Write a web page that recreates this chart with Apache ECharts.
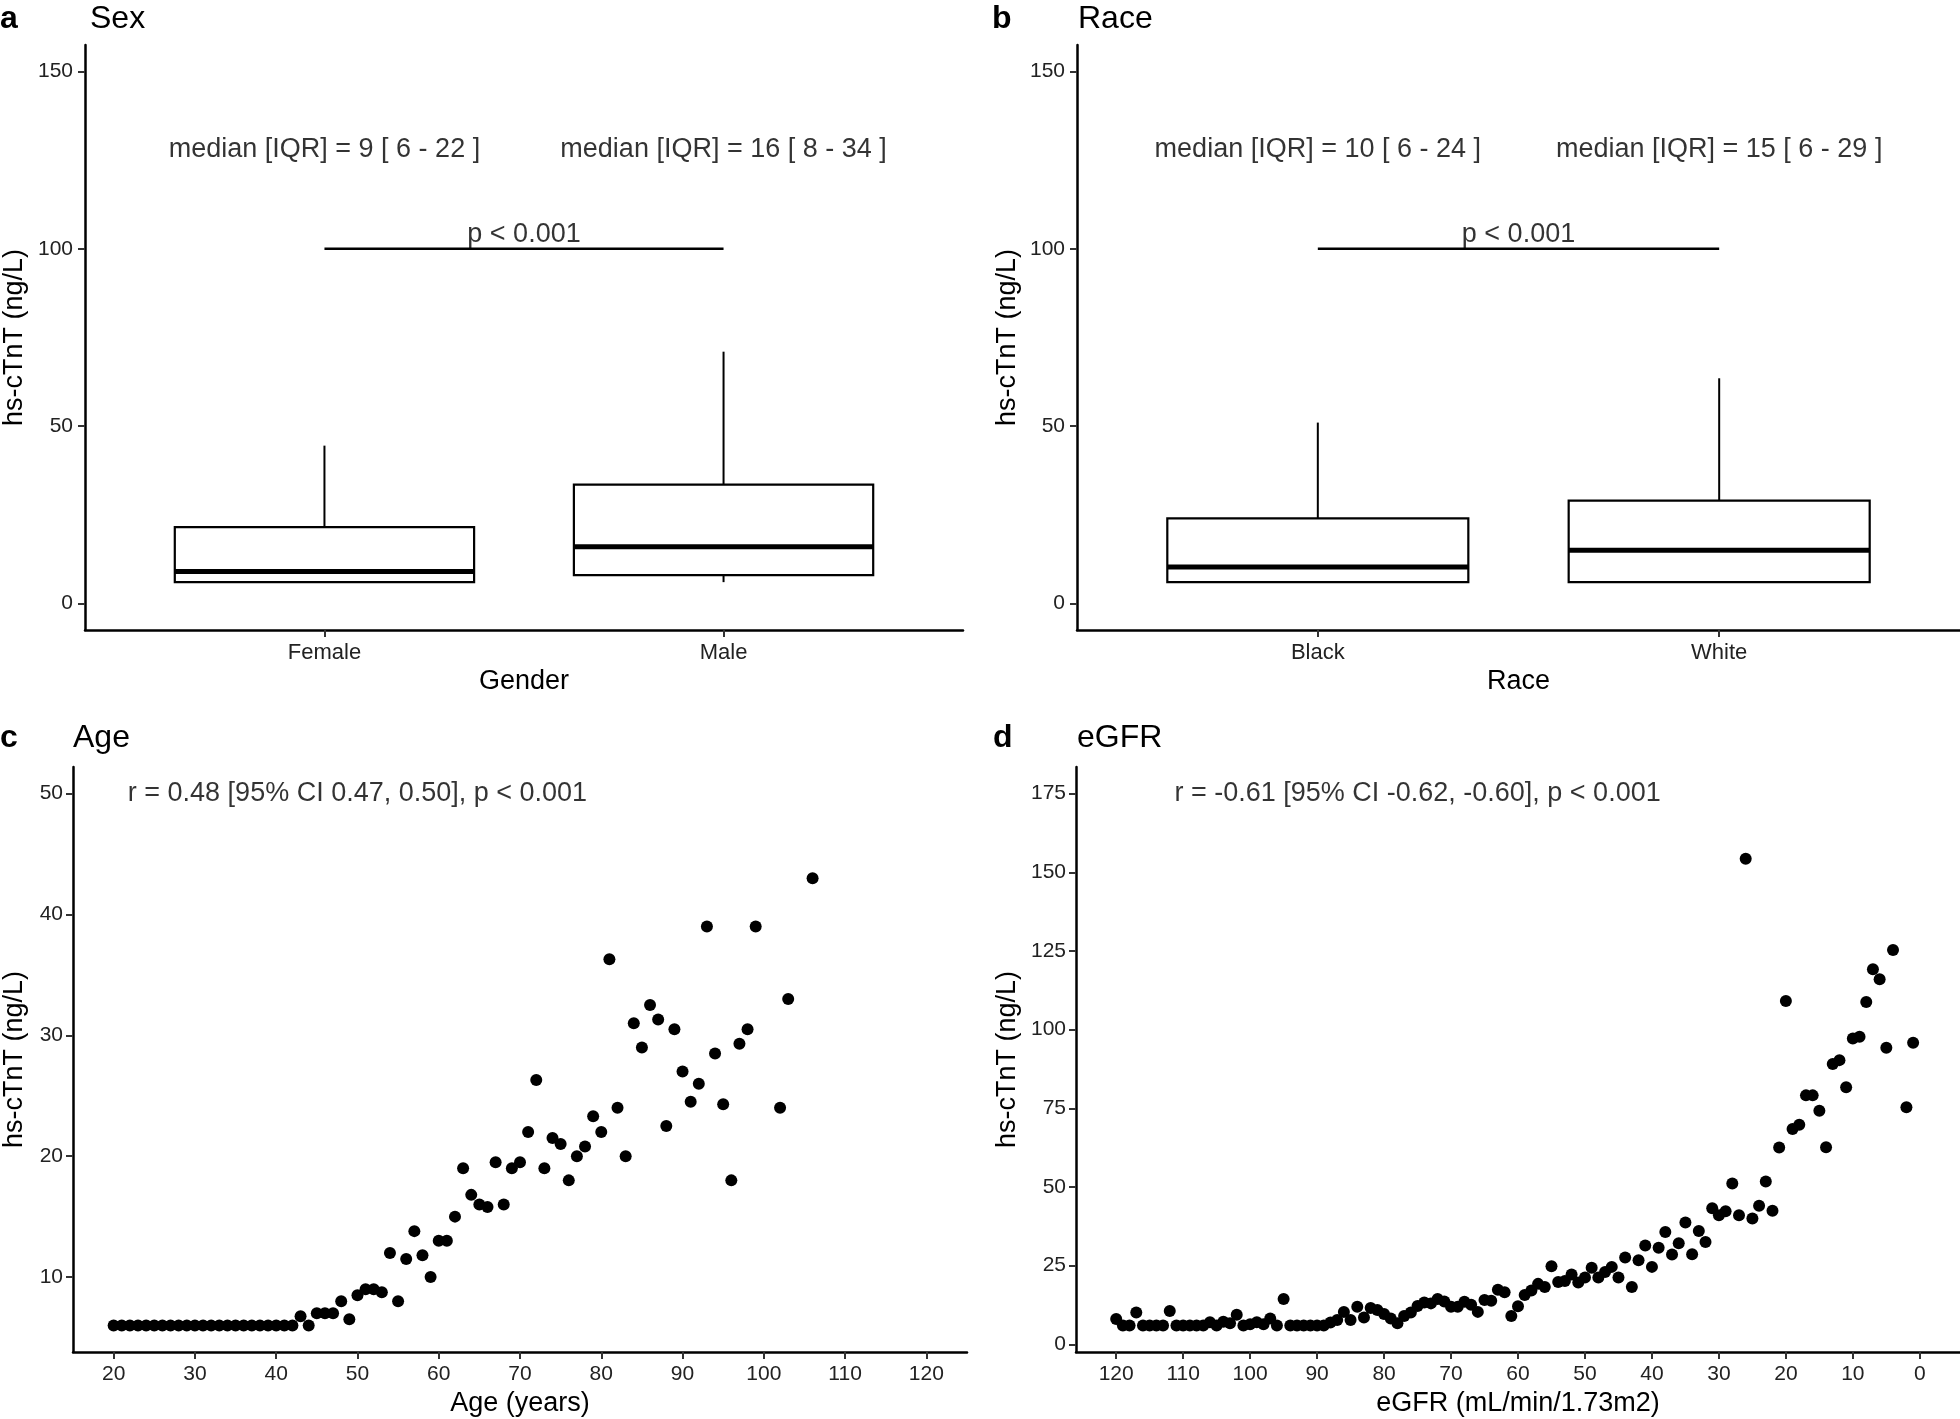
<!DOCTYPE html>
<html>
<head>
<meta charset="utf-8">
<script src="https://cdn.jsdelivr.net/npm/echarts@6/dist/echarts.min.js"></script>
<style>
html,body{margin:0;padding:0;background:#fff;}
#chart{width:1960px;height:1419px;}
</style>
</head>
<body>
<div id="chart"></div>
<script>
// ---------- data ----------
const sexCategories = ['Female', 'Male'];
// [min, Q1, median, Q3, max(upper whisker)]
const sexBox = [[6, 6, 9, 21.5, 44.5], [6, 8, 16, 33.5, 71]];
const sexLabels = ['median [IQR] = 9 [ 6 - 22 ]', 'median [IQR] = 16 [ 8 - 34 ]'];

const raceCategories = ['Black', 'White'];
const raceBox = [[6, 6, 10.3, 24, 51], [6, 6, 15, 29, 63.5]];
const raceLabels = ['median [IQR] = 10 [ 6 - 24 ]', 'median [IQR] = 15 [ 6 - 29 ]'];

const boxTicks = [0, 50, 100, 150];
const pLabel = 'p < 0.001';

const ageYears = [20,21,22,23,24,25,26,27,28,29,30,31,32,33,34,35,36,37,38,39,40,41,42,
  43,44,45,46,47,48,49,50,51,52,53,54,55,56,57,58,59,60,61,62,63,64,65,66,67,68,69,70,
  71,72,73,74,75,76,77,78,79,80,81,82,83,84,85,86,87,88,89,90,91,92,93,94,95,96,97,98,99,
  102,103,106];
const ageTnT = [6,6,6,6,6,6,6,6,6,6,6,6,6,6,6,6,6,6,6,6,6,6,6,
  6.75,6,7,7,7,8,6.5,8.5,9,9,8.75,12,8,11.5,13.8,11.8,10,13,13,15,19,16.8,16,15.8,19.5,16,19,19.5,
  22,26.3,19,21.5,21,18,20,20.8,23.3,22,36.3,24,20,31,29,32.5,31.3,22.5,30.5,27,24.5,26,39,28.5,24.3,18,29.3,30.5,39,
  24,33,43];
const ageXTicks = [20,30,40,50,60,70,80,90,100,110,120];
const ageYTicks = [10,20,30,40,50];
const ageLabel = 'r = 0.48 [95% CI 0.47, 0.50], p < 0.001';

const egfrValues = [120,119,118,117,116,115,114,113,112,111,110,109,108,107,106,105,104,103,102,101,
  100,99,98,97,96,95,94,93,92,91,90,89,88,87,86,85,84,83,82,81,
  80,79,78,77,76,75,74,73,72,71,70,69,68,67,66,65,64,63,62,61,
  60,59,58,57,56,55,54,53,52,51,50,49,48,47,46,45,44,43,42,41,
  40,39,38,37,36,35,34,33,32,31,30,29,28,27,26,25,24,23,22,21,
  20,19,18,17,16,15,14,13,12,11,10,9,8,7,6,5,4,2,1];
const egfrTnT = [8,6,6,10.1,6,6,6,6,10.6,6,6,6,6,6,7,6,7.2,6.7,9.4,6,
  6.4,7,6.4,8.2,6,14.4,6,6,6,6,6,6,6.9,7.7,10.3,7.7,11.9,8.5,11.5,10.9,
  9.6,8.2,6.7,9,10.1,12.2,13.3,13,14.4,13.6,11.9,11.9,13.5,12.6,10.3,14.1,13.8,17.3,16.5,9,
  12.1,15.7,17.1,19.2,18.2,24.8,19.8,20.1,22.2,19.6,21.2,24.3,21.2,23,24.6,21.2,27.6,18.2,26.7,31.4,
  24.6,30.7,35.7,28.5,32.1,38.7,28.6,36,32.5,43.2,41,42.3,51.1,41,154.3,40,44,51.7,42.4,62.5,
  109.1,68.4,69.8,79.1,79.1,74.2,62.6,89.1,90.3,81.7,97.2,97.7,108.8,119.2,116,94.2,125.3,75.3,95.8];
const egfrXTicks = [0,10,20,30,40,50,60,70,80,90,100,110,120];
const egfrYTicks = [0,25,50,75,100,125,150,175];
const egfrLabel = 'r = -0.61 [95% CI -0.62, -0.60], p < 0.001';

// ---------- styling ----------
const FONT = "'Liberation Sans', Arial, sans-serif";
const DOT = 12;
const TICKCOL = '#222';

const grids = [
  {left: 85, top: 45, width: 878, height: 585},
  {left: 1077, top: 45, width: 883, height: 585},
  {left: 73, top: 767, width: 894, height: 585},
  {left: 1076, top: 767, width: 884, height: 585}
];

function axisCommon(extra) {
  return Object.assign({
    type: 'value',
    splitLine: {show: false},
    axisLine: {show: true, onZero: false, lineStyle: {color: '#000', width: 2.5}},
    nameTextStyle: {fontFamily: FONT, fontSize: 27, color: '#000'},
    nameLocation: 'middle'
  }, extra);
}

function tickStyle(custom) {
  return {show: true, length: 7, customValues: custom, lineStyle: {color: '#333', width: 2}};
}

function labelStyle(size, custom, formatter, margin) {
  const o = {show: true, fontFamily: FONT, fontSize: size, color: TICKCOL, margin: margin, customValues: custom, showMinLabel: true, showMaxLabel: true};
  if (formatter) o.formatter = formatter;
  return o;
}

const xAxes = [
  axisCommon({gridIndex: 0, min: 0.4, max: 2.6, name: 'Gender', nameGap: 38,
    axisTick: tickStyle([1, 2]),
    axisLabel: labelStyle(22, [1, 2], v => sexCategories[Math.round(v) - 1], 12)}),
  axisCommon({gridIndex: 1, min: 0.4, max: 2.6, name: 'Race', nameGap: 38,
    axisTick: tickStyle([1, 2]),
    axisLabel: labelStyle(22, [1, 2], v => raceCategories[Math.round(v) - 1], 12)}),
  axisCommon({gridIndex: 2, min: 15, max: 125, name: 'Age (years)', nameGap: 38,
    axisTick: tickStyle(ageXTicks),
    axisLabel: labelStyle(21, ageXTicks, null, 12)}),
  axisCommon({gridIndex: 3, min: -6, max: 126, inverse: true, name: 'eGFR (mL/min/1.73m2)', nameGap: 38,
    axisTick: tickStyle(egfrXTicks),
    axisLabel: labelStyle(21, egfrXTicks, null, 12)})
];

const yAxes = [
  axisCommon({gridIndex: 0, min: -7.5, max: 157.5, name: 'hs-cTnT (ng/L)', nameGap: 57,
    axisTick: tickStyle(boxTicks),
    axisLabel: labelStyle(21, boxTicks, null, 12)}),
  axisCommon({gridIndex: 1, min: -7.5, max: 157.5, name: 'hs-cTnT (ng/L)', nameGap: 56,
    axisTick: tickStyle(boxTicks),
    axisLabel: labelStyle(21, boxTicks, null, 12)}),
  axisCommon({gridIndex: 2, min: 3.8, max: 52.2, name: 'hs-cTnT (ng/L)', nameGap: 45,
    axisTick: tickStyle(ageYTicks),
    axisLabel: labelStyle(21, ageYTicks, null, 10)}),
  axisCommon({gridIndex: 3, min: -2.45, max: 183.45, name: 'hs-cTnT (ng/L)', nameGap: 55,
    axisTick: tickStyle(egfrYTicks),
    axisLabel: labelStyle(21, egfrYTicks, null, 10)})
];

function boxRender(params, api) {
  const x = api.value(0);
  const mn = api.value(1), q1 = api.value(2), md = api.value(3), q3 = api.value(4), mx = api.value(5);
  const half = 0.375;
  const tl = api.coord([x - half, q3]);
  const br = api.coord([x + half, q1]);
  const cMax = api.coord([x, mx]);
  const cQ3 = api.coord([x, q3]);
  const cQ1 = api.coord([x, q1]);
  const cMin = api.coord([x, mn]);
  const ml = api.coord([x - half, md]);
  const mr = api.coord([x + half, md]);
  return {
    type: 'group',
    children: [
      {type: 'line', shape: {x1: cMax[0], y1: cMax[1], x2: cQ3[0], y2: cQ3[1]}, style: {stroke: '#000', lineWidth: 2}},
      {type: 'line', shape: {x1: cQ1[0], y1: cQ1[1], x2: cMin[0], y2: cMin[1]}, style: {stroke: '#000', lineWidth: 2}},
      {type: 'rect', shape: {x: tl[0], y: tl[1], width: br[0] - tl[0], height: br[1] - tl[1]}, style: {fill: '#fff', stroke: '#000', lineWidth: 2.2}},
      {type: 'line', shape: {x1: ml[0], y1: ml[1], x2: mr[0], y2: mr[1]}, style: {stroke: '#000', lineWidth: 5}}
    ]
  };
}

function boxSeries(idx, boxes) {
  return {
    type: 'custom', xAxisIndex: idx, yAxisIndex: idx, silent: true,
    renderItem: boxRender,
    encode: {x: 0, y: [1, 2, 3, 4, 5]},
    data: boxes.map((b, i) => [i + 1].concat(b)),
    z: 2
  };
}

function textSeries(idx, points, texts, size) {
  return {
    type: 'scatter', xAxisIndex: idx, yAxisIndex: idx, silent: true, symbolSize: 0,
    data: points,
    label: {show: true, position: 'inside', formatter: p => texts[p.dataIndex], fontFamily: FONT, fontSize: size, color: '#000'},
    z: 5
  };
}

function sigSeries(idx) {
  return {
    type: 'line', xAxisIndex: idx, yAxisIndex: idx, silent: true, symbol: 'none',
    data: [[1, 100], [2, 100]],
    lineStyle: {color: '#000', width: 2.5}, z: 3
  };
}

const series = [
  boxSeries(0, sexBox),
  boxSeries(1, raceBox),
  sigSeries(0),
  sigSeries(1),
  textSeries(0, [[1, 128], [2, 128]], sexLabels, 27),
  textSeries(1, [[1, 128], [2, 128]], raceLabels, 27),
  textSeries(0, [[1.5, 104]], [pLabel], 27),
  textSeries(1, [[1.5, 104]], [pLabel], 27),
  {
    type: 'scatter', xAxisIndex: 2, yAxisIndex: 2, silent: true, symbolSize: DOT,
    itemStyle: {color: '#000', opacity: 1},
    data: ageYears.map((a, i) => [a, ageTnT[i]])
  },
  {
    type: 'scatter', xAxisIndex: 3, yAxisIndex: 3, silent: true, symbolSize: DOT,
    itemStyle: {color: '#000', opacity: 1},
    data: egfrValues.map((e, i) => [e, egfrTnT[i]])
  },
  textSeries(2, [[50, 50]], [ageLabel], 27),
  textSeries(3, [[75, 175]], [egfrLabel], 27)
];

const titleStyle = (bold) => ({fontFamily: FONT, fontSize: 32, color: '#000', fontWeight: bold ? 'bold' : 'normal'});
const titles = [
  {text: 'a', left: 0, top: 3, padding: 0, textStyle: titleStyle(true)},
  {text: 'Sex', left: 90, top: 3, padding: 0, textStyle: titleStyle(false)},
  {text: 'b', left: 992, top: 3, padding: 0, textStyle: titleStyle(true)},
  {text: 'Race', left: 1078, top: 3, padding: 0, textStyle: titleStyle(false)},
  {text: 'c', left: 0, top: 722, padding: 0, textStyle: titleStyle(true)},
  {text: 'Age', left: 73, top: 722, padding: 0, textStyle: titleStyle(false)},
  {text: 'd', left: 993, top: 722, padding: 0, textStyle: titleStyle(true)},
  {text: 'eGFR', left: 1077, top: 722, padding: 0, textStyle: titleStyle(false)}
];

const chart = echarts.init(document.getElementById('chart'), null, {renderer: 'canvas'});
chart.setOption({
  backgroundColor: '#fff',
  animation: false,
  title: titles,
  grid: grids,
  xAxis: xAxes,
  yAxis: yAxes,
  series: series
});
</script>
</body>
</html>
